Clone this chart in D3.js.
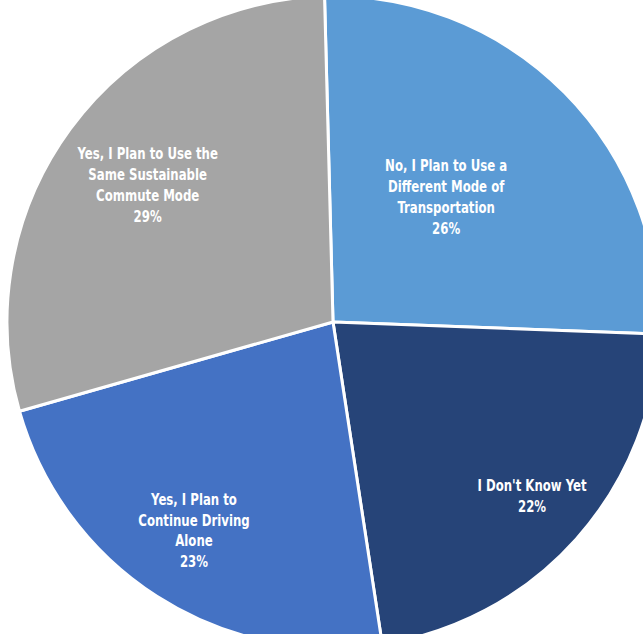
<!DOCTYPE html>
<html>
<head>
<meta charset="utf-8">
<script src="https://cdn.jsdelivr.net/npm/d3@7"></script>
<style>
  body { margin: 0; background: #fff; }
  svg { display: block; }
  .lbl { font-family: "Liberation Sans Narrow", "DejaVu Sans Condensed", "Arial Narrow", sans-serif; font-weight: bold; font-stretch: condensed; fill: #fff; }
</style>
</head>
<body>
<div id="chart"></div>
<script>
// data
var categories = [
    "No, I Plan to Use a|Different Mode of|Transportation",
    "I Don't Know Yet",
    "Yes, I Plan to|Continue Driving|Alone",
    "Yes, I Plan to Use the|Same Sustainable|Commute Mode"
];
var values = [26, 22, 23, 29];
var colors = ["#5b9bd5", "#264478", "#4472c4", "#a5a5a5"];

// where each label sits: distance from centre and small angle shift (radians)
var labelRadius = [168, 265, 251, 230];
var labelShift = [-0.052, -0.007, 0.016, 0.0];

function main(){
    var canvasWidth = 643;
    var canvasHeight = 634;
    var cx = 333, cy = 322;
    var radius = 326;
    var startAngle = -0.026;

    var svg = d3.select("#chart").append("svg")
        .attr("width", canvasWidth)
        .attr("height", canvasHeight);

    var g = svg.append("g")
        .attr("transform", "translate(" + cx + "," + cy + ")");

    var pie = d3.pie()
        .sort(null)
        .value(function(d){ return d; })
        .startAngle(startAngle)
        .endAngle(startAngle + 2 * Math.PI);

    var arc = d3.arc().innerRadius(0).outerRadius(radius);

    var arcs = pie(values);

    g.selectAll(".slice")
        .data(arcs)
        .enter().append("path")
        .attr("class", "slice")
        .attr("d", arc)
        .attr("fill", function(d, i){ return colors[i]; })
        .attr("stroke", "#fff")
        .attr("stroke-width", 3)
        .attr("stroke-linejoin", "round");

    // labels (squeezed a bit to look like the condensed face of the original)
    var lineH = 21;
    var labels = g.selectAll(".lbl")
        .data(arcs)
        .enter().append("text")
        .attr("class", "lbl")
        .attr("text-anchor", "middle")
        .attr("font-size", "15px")
        .attr("transform", function(d, i){
            var a = (d.startAngle + d.endAngle) / 2 + labelShift[i];
            var x = labelRadius[i] * Math.sin(a);
            var y = -labelRadius[i] * Math.cos(a);
            return "translate(" + x + "," + y + ") scale(0.87,1)";
        });

    labels.each(function(d, i){
        var lines = categories[i].split("|").concat([d.data + "%"]);
        var t = d3.select(this);
        var top = -(lines.length - 1) * lineH / 2 + 5;
        lines.forEach(function(s, k){
            t.append("tspan")
                .attr("x", 0)
                .attr("y", top + k * lineH)
                .text(s);
        });
    });
}

main()
</script>
</body>
</html>
